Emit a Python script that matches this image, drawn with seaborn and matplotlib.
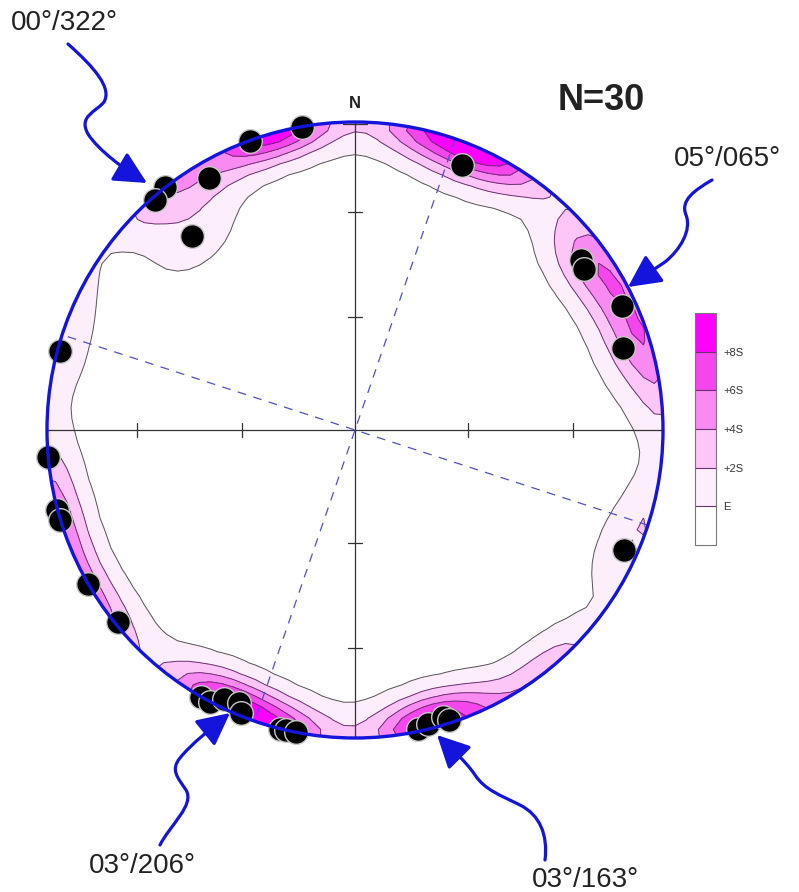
import numpy as np
import pandas as pd
import matplotlib
matplotlib.use("Agg")
import matplotlib as mpl
import matplotlib.pyplot as plt
import seaborn as sns
from matplotlib.patches import Circle, FancyArrowPatch
from matplotlib.path import Path
from matplotlib.colors import ListedColormap, BoundaryNorm

# ---------------------------------------------------------
# data: poles as trend / plunge (degrees)
# ---------------------------------------------------------
pole_trend = [322, 319, 330, 340, 350, 320, 22, 53, 55, 65, 73, 285,
              265, 255, 253, 240, 231, 210, 208, 206, 203, 202, 194, 193,
              191, 168, 166, 163, 162, 114]
pole_plunge = [0, 1, 6, 0, 0, 19, 8, 9, 10, 5, 10, 1,
               0, 0, 0, 0, 1, 0, 0, 3, 4, 1, 0, 0,
               0, 1, 2, 3, 1, 5]

plane_azimuths = [19, 108]          # dashed vertical planes
tick_plunges = [30, 60]             # ticks on the cross axes
level_labels = ["E", "+2S", "+4S", "+6S", "+8S"]
level_colors = ["#ffffff", "#fdeefb", "#fcc6f6", "#f98af2", "#f545ec", "#ff00ff"]

callout_text = ["00°/322°", "05°/065°", "03°/206°", "03°/163°"]

KAMB_K = 60.0       # smoothing exponent of the counting kernel

# layout (pixels)
W, H = 799, 892
CX, CY, RAD = 355, 430, 308
BLUE = "#1414dc"


def project(trend, plunge):
    # lower hemisphere equal-area (Schmidt), primitive radius = 1
    t = np.radians(trend)
    p = np.radians(plunge)
    r = np.sqrt(2) * np.sin((np.pi / 2 - p) / 2)
    return r * np.sin(t), r * np.cos(t)


poles = pd.DataFrame({"trend": pole_trend, "plunge": pole_plunge})
poles["x"], poles["y"] = project(poles["trend"], poles["plunge"])
n = len(poles)

# ---- density grid (exponential Kamb) ----
g = np.linspace(-1.08, 1.08, 61)
GX, GY = np.meshgrid(g, g)
GR = np.hypot(GX, GY)
theta = 2 * np.arcsin(np.clip(GR / np.sqrt(2), 0, 1))
az = np.arctan2(GX, GY)
gvec = np.stack([np.sin(theta) * np.sin(az), np.sin(theta) * np.cos(az), np.cos(theta)], -1)

t = np.radians(poles["trend"].to_numpy())
p = np.radians(poles["plunge"].to_numpy())
pvec = np.stack([np.cos(p) * np.sin(t), np.cos(p) * np.cos(t), np.sin(p)], -1)

cosd = np.abs(gvec @ pvec.T)
density = np.exp(KAMB_K * (cosd - 1)).sum(-1)
E = n / KAMB_K
S = np.sqrt(n * (KAMB_K / 2 - 1)) / KAMB_K
levels = [E + 2 * i * S for i in range(5)]
fill_levels = levels + [max(density.max(), levels[-1]) + 1]

# ---------------------------------------------------------
sns.set_theme(style="white")
plt.rcParams["font.family"] = ["Liberation Sans", "DejaVu Sans"]

fig = plt.figure(figsize=(W / 100, H / 100), dpi=100)
ax = fig.add_axes([0, 0, 1, 1])
ax.set_xlim(-CX / RAD, (W - CX) / RAD)
ax.set_ylim(-(H - CY) / RAD, CY / RAD)
ax.axis("off")

clip = Circle((0, 0), 1, transform=ax.transData)
cf = ax.contourf(GX, GY, density, levels=fill_levels, colors=level_colors[1:], zorder=1)
cl = ax.contour(GX, GY, density, levels=levels,
                colors=["#555555"] + ["#6a3070"] * 4, linewidths=0.7, zorder=2)
cf.set_clip_path(clip)
cl.set_clip_path(clip)

# cross axes with ticks
ax.plot([-1, 1], [0, 0], color="#333333", lw=0.9, zorder=3)
ax.plot([0, 0], [-1, 1], color="#333333", lw=0.9, zorder=3)
tl = 0.022
for tp in tick_plunges:
    for tr in [0, 90, 180, 270]:
        x0, y0 = project(tr, tp)
        if tr in (0, 180):
            ax.plot([-tl, tl], [y0, y0], color="#333333", lw=0.9, zorder=3)
        else:
            ax.plot([x0, x0], [-tl, tl], color="#333333", lw=0.9, zorder=3)
ax.plot([-0.04, 0.04], [0.995, 0.995], color="#333333", lw=0.9, zorder=3)

# dashed planes
for a in plane_azimuths:
    x1, y1 = project(a, 0)
    x2, y2 = project(a + 180, 0)
    ax.plot([x1, x2], [y1, y2], color="#5050c8", lw=0.9, ls=(0, (7, 6)), zorder=3)

sns.scatterplot(data=poles, x="x", y="y", s=290, color="black",
                edgecolor="#c8c8c8", linewidth=1.0, zorder=5, ax=ax, legend=False)
ax.set_xlabel("")
ax.set_ylabel("")

ax.add_patch(Circle((0, 0), 1, fill=False, ec=BLUE, lw=2.4, zorder=6))

# ---- overlay in pixel coordinates for labels and arrows ----
ov = fig.add_axes([0, 0, 1, 1])
ov.set_xlim(0, W)
ov.set_ylim(H, 0)
ov.axis("off")

ov.text(355, 103, "N", ha="center", va="center", fontsize=12, fontweight="bold", color="#222222")
ov.text(601, 101, f"N={n}", ha="center", va="center", fontsize=26, fontweight="bold", color="#222222")

text_pos = [(64, 23), (727, 159), (142, 866), (585, 880)]
arrow_paths = [
    [(68, 44), (95, 68), (112, 88), (104, 102), (96, 112), (78, 116), (88, 134),
     (98, 150), (125, 170), (147, 183)],
    [(712, 180), (695, 190), (680, 200), (686, 215), (692, 230), (680, 250), (665, 262),
     (650, 272), (638, 280), (628, 287)],
    [(160, 845), (170, 825), (195, 805), (186, 790), (178, 778), (170, 770), (180, 758),
     (190, 745), (215, 725), (230, 713)],
    [(545, 860), (548, 835), (540, 815), (520, 805), (500, 795), (485, 790), (475, 775),
     (465, 760), (450, 748), (437, 735)],
]
for label, pos, verts in zip(callout_text, text_pos, arrow_paths):
    ov.text(pos[0], pos[1], label, ha="center", va="center", fontsize=20, color="#222222")
    path = Path(verts, [Path.MOVETO] + [Path.CURVE4] * 9)
    ov.add_patch(FancyArrowPatch(path=path, arrowstyle="-|>,head_length=1.0,head_width=0.5",
                                 mutation_scale=20, color=BLUE, lw=2.3, zorder=7))

# ---- legend bar ----
cax = fig.add_axes([695 / W, 1 - 545 / H, 21 / W, 232 / H])
cb = mpl.colorbar.ColorbarBase(cax, cmap=ListedColormap(level_colors),
                               norm=BoundaryNorm(np.arange(7), 6),
                               ticks=np.arange(1, 6), drawedges=True)
cb.ax.set_yticklabels(level_labels)
cb.ax.minorticks_off()
cb.ax.tick_params(which="both", length=0, labelsize=8, pad=5, colors="#333333")
cb.outline.set_edgecolor("#777777")
cb.outline.set_linewidth(0.8)
cb.dividers.set_color("#6a3070")
cb.dividers.set_linewidth(0.8)

fig.savefig("out.png", dpi=100)
